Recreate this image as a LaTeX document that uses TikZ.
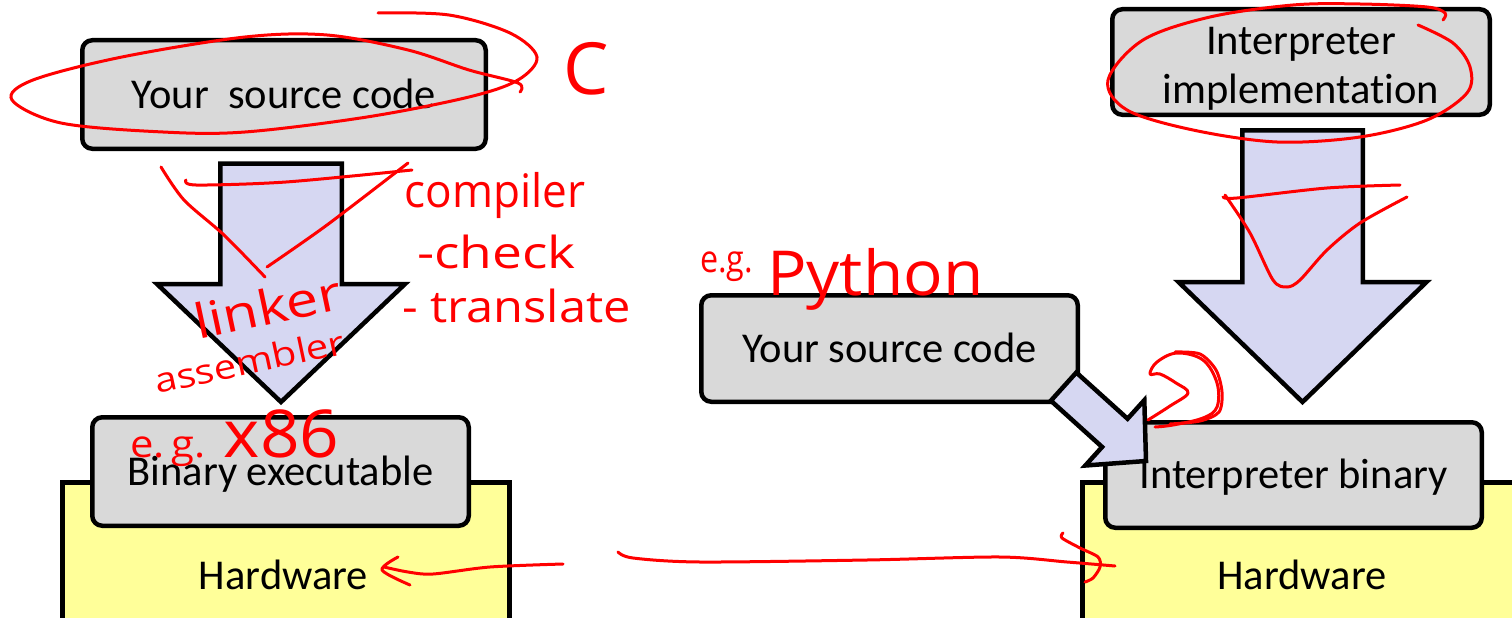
\documentclass[tikz,border=0pt]{standalone}
\usepackage{fontspec}
\setmainfont{Carlito}[Ligatures={NoCommon}]
\newfontfamily\handfont{Open Sans}
\usetikzlibrary{calc}

\definecolor{boxgray}{HTML}{D9D9D9}
\definecolor{arrowfill}{RGB}{214,215,242}
\definecolor{hwyellow}{HTML}{FFFF99}
\definecolor{ink}{HTML}{FF0000}

\tikzset{
  box/.style={draw=black, line width=4.5pt, fill=boxgray, rounded corners=10pt,
    inner sep=0pt, font=\fontsize{42.5}{48}\selectfont, text height=27pt, text depth=0pt},
  hwbox/.style={draw=black, line width=4.5pt, fill=hwyellow, inner sep=0pt},
  hwlabel/.style={inner sep=0pt, font=\fontsize{42.5}{48}\selectfont, text height=27pt, text depth=0pt},
  blockarrow/.style={draw=black, line width=4.5pt, fill=arrowfill, line join=miter},
  pen/.style={draw=ink, line width=3pt, line cap=round, line join=round},
  handtext/.style={text=ink, inner sep=0pt},
}

% fat block arrow: #1 name, #2 tail, #3 tip, #4 shaft half width, #5 head half width, #6 head length
\newcommand{\blockarrow}[6]{%
  \coordinate (#1-neck) at ($(#3)!#6!(#2)$);
  \draw[blockarrow] ($(#2)!#4!90:(#3)$) -- ($(#1-neck)!#4!-90:(#2)$)
    -- ($(#1-neck)!#5!-90:(#2)$) -- (#3) -- ($(#1-neck)!#5!90:(#2)$)
    -- ($(#1-neck)!#4!90:(#2)$) -- ($(#2)!#4!-90:(#3)$) -- cycle;
}

\begin{document}
\begin{tikzpicture}[x=1pt,y=-1pt]
\useasboundingbox (0,0) rectangle (1512,618);
\clip (0,0) rectangle (1512,618);
\fill[white] (0,0) rectangle (1512,618);

% ---- compiled language (left) ----
\node[hwbox, anchor=north west, minimum width=447pt, minimum height=180pt] (hwL) at (60.25,480.25) {};
\node[hwlabel] (hwLtext) at (283.5,575.5) {Hardware};
\node[box, minimum width=376.5pt, minimum height=108.5pt] (binL) at (280.5,471.5) {Binary executable};
\node[box, minimum width=403.5pt, minimum height=108.5pt] (srcL) at (284,94.5) {Your\ \ source code};

\coordinate (aL-tail) at (281,163.5);
\coordinate (aL-tip) at (281,402);
\blockarrow{aL}{aL-tail}{aL-tip}{60.75pt}{124pt}{118pt}

% ---- interpreted language (right) ----
\node[hwbox, anchor=north west, minimum width=460pt, minimum height=180pt] (hwR) at (1080.25,480.25) {};
\node[hwlabel] (hwRtext) at (1302,575.5) {Hardware};
\node[box, minimum width=376.5pt, minimum height=105.5pt] (binR) at (1293.5,475) {Interpreter binary};
\node[box, minimum width=377.5pt, minimum height=105.5pt, align=center,
      font=\fontsize{42.5}{49}\selectfont, text height=82pt, text depth=0pt] (impl) at (1301,62) {Interpreter\\implementation};
\node[box, minimum width=376.5pt, minimum height=106.5pt] (srcR) at (889.5,348.5) {Your source code};

\coordinate (aR-tail) at (1302.5,130.25);
\coordinate (aR-tip) at (1302.5,402);
\blockarrow{aR}{aR-tail}{aR-tip}{60.25pt}{124pt}{120pt}

\coordinate (aD-tail) at (1063.6,386.6);
\coordinate (aD-tip) at (1146,461);
\blockarrow{aD}{aD-tail}{aD-tip}{19pt}{44pt}{42pt}

% ---- pen annotations ----
% circle round the left source box, and the C beside it
\draw[pen] plot[smooth, tension=0.55] coordinates {(378,13) (449,15) (510,33) (537,57) (518,80) (469,97)
  (367,117) (245,132) (163,132) (61,123) (12,100) (33,80) (122,57) (245,37) (327,35) (408,50)
  (469,70) (518,83) (520,92)};
\node[handtext, anchor=base west, font={\handfont\fontsize{72}{72}\selectfont}] (annC) at (563,94) {C};

% crossed-out left arrow
\draw[pen] plot[smooth] coordinates {(161,167) (184,200) (224,235) (265,277)};
\draw[pen] plot[smooth] coordinates {(186,180) (196,185) (286,182) (412,170)};
\draw[pen] plot[smooth] coordinates {(267,267) (327,225) (408,163)};

\node[handtext, anchor=base, font={\handfont\fontsize{42}{42}\selectfont}] (annCompiler) at (495,207) {\scalebox{1.05}[1.1]{compiler}};
\node[handtext, anchor=base west, font={\handfont\fontsize{42}{42}\selectfont}] (annCheck) at (417,268) {\scalebox{1.27}[1.05]{-check}};
\node[handtext, anchor=base west, font={\handfont\fontsize{42}{42}\selectfont}] (annTranslate) at (402,322) {\scalebox{1.16}[1.05]{- translate}};
\node[handtext, anchor=base west, rotate=12, font={\handfont\fontsize{48}{48}\selectfont}] (annLinker) at (198,340) {\scalebox{1.2}[1]{linker}};
\node[handtext, anchor=base west, rotate=12, font={\handfont\fontsize{34}{34}\selectfont}] (annAssembler) at (157,394) {\scalebox{1.18}[1]{assembler}};
\node[handtext, anchor=base west] (annX86) at (130,457)
  {{\handfont\fontsize{38}{38}\selectfont\scalebox{1.1}[1]{e.\,g.}}\hspace{18pt}{\handfont\fontsize{66}{66}\selectfont\scalebox{1.05}[1]{x86}}};

% right side notes
\node[handtext, anchor=base west, font={\handfont\fontsize{38}{38}\selectfont}] (annEg) at (700,272) {\scalebox{0.85}[1]{e.g.}};
\node[handtext, anchor=base west, font={\handfont\fontsize{62}{62}\selectfont}] (annPython) at (767,295) {\scalebox{1.06}[1]{Python}};

\draw[pen] plot[smooth, tension=0.55] coordinates {(1443,20) (1445,13) (1427,7) (1360,4) (1293,5) (1210,17)
  (1143,40) (1108,80) (1127,110) (1193,130) (1277,142) (1360,137) (1427,120) (1467,93) (1470,67)
  (1453,43) (1418,25)};

\draw[pen] plot[smooth] coordinates {(1223,197) (1237,198) (1327,188) (1400,185)};
\draw[pen] plot[smooth] coordinates {(1225,195) (1250,233) (1273,280) (1287,287) (1300,280) (1327,250) (1360,223) (1407,197)};

\draw[pen] plot[smooth, tension=0.6] coordinates {(1148,420) (1170,406) (1188,393) (1176,383) (1160,374)
  (1150,374) (1157,362) (1177,353) (1203,360) (1217,383) (1217,407) (1203,418) (1173,425) (1155,427)};
\draw[pen] plot[smooth] coordinates {(1175,352) (1200,354) (1216,370) (1222,392) (1219,412) (1200,421) (1170,424)};

% link between the two hardware boxes
\draw[pen] plot[smooth] coordinates {(398,557) (382,570) (410,585)};
\draw[pen] plot[smooth] coordinates {(384,567) (408,572) (433,574) (490,567) (563,564)};
\draw[pen] plot[smooth] coordinates {(618,552) (633,558) (700,562) (867,560) (1000,557) (1067,562) (1115,566)};
\draw[pen] plot[smooth] coordinates {(1063,533) (1062,538) (1080,548) (1098,557) (1100,567) (1093,578) (1085,582)};
\end{tikzpicture}
\end{document}
